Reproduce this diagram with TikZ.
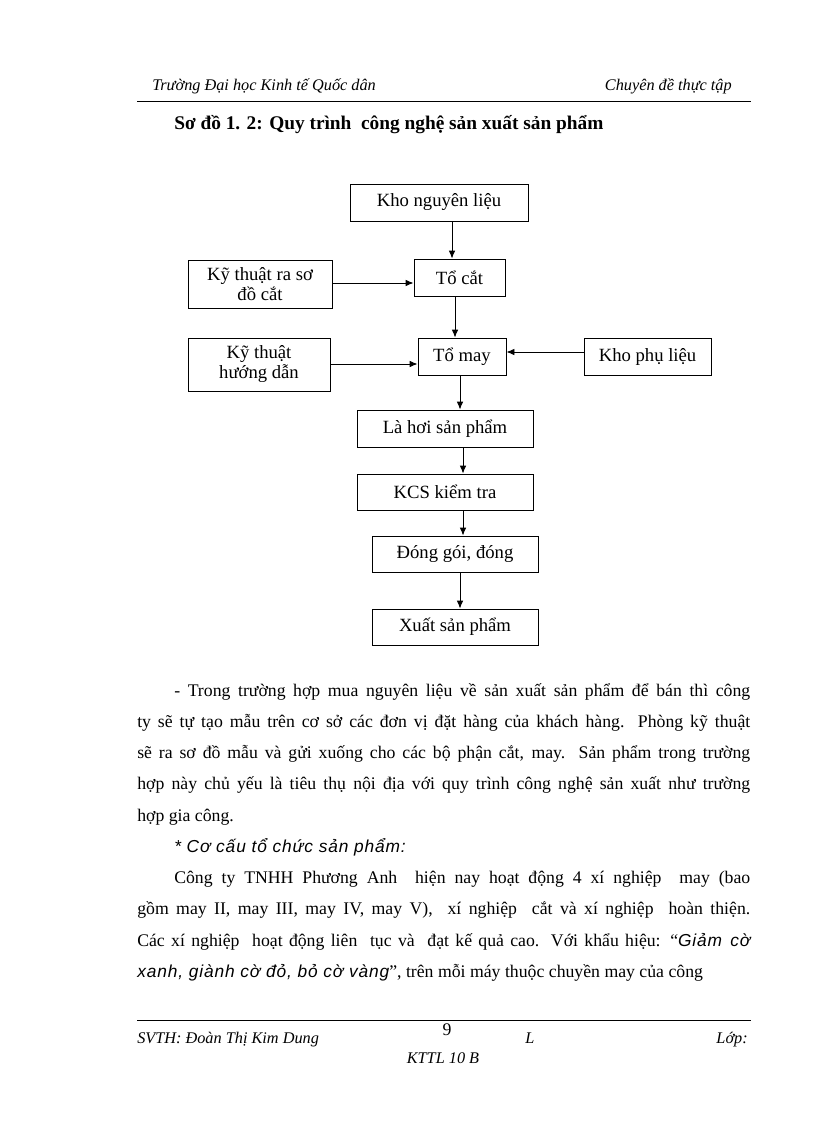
\documentclass[tikz,border=0pt]{standalone}
\usepackage{fontspec}
\setmainfont{Liberation Serif}
\newfontfamily\sitf{Liberation Sans}[LetterSpace=5]
\usetikzlibrary{arrows.meta}
\tikzset{
  box/.style={draw, line width=0.7pt, inner sep=1pt, align=center, font=\fontsize{14}{15}\selectfont},
  arr/.style={draw, line width=0.7pt, -{Latex[length=6pt,width=5pt]}},
  body/.style={anchor=base west, inner sep=0pt, font=\fontsize{13.3}{15}\selectfont},
  hdr/.style={inner sep=0pt, font=\fontsize{12.2}{14}\selectfont\itshape},
  rulel/.style={line width=0.75pt}
}
\newcommand{\sit}{\sitf\itshape\fontsize{13}{15}\selectfont}
\newcommand{\boxat}[6]{% name, x1,y1,x2,y2, text
  \node[box, minimum width={(#4-#2)*0.75pt}, minimum height={(#5-#3)*0.75pt}] (#1) at ({(#2+#4)/2},{(#3+#5)/2}) {#6};}
\begin{document}
\begin{tikzpicture}[x=0.75pt,y=-0.75pt]
\useasboundingbox[fill=white] (0,0) rectangle (816,1123);
% header
\node[hdr, anchor=base west] (hl) at (152,91) {Trường Đại học Kinh tế Quốc dân};
\node[hdr, anchor=base east] (hr) at (732,91) {Chuyên đề thực tập};
\coordinate (hr1) at (137,102);
\coordinate (hr2) at (751,102);
\draw[rulel] (hr1) -- (hr2);
\node[anchor=base west, inner sep=0pt, font=\fontsize{14.5}{16}\selectfont\bfseries] (title) at (174,130) {Sơ đồ 1. 2: Quy trình\ \ công nghệ sản xuất sản phẩm};
% boxes
\boxat{kho}{350}{184}{528}{221}{Kho nguyên liệu}
\boxat{tocat}{414}{259}{505}{296}{Tổ cắt}
\boxat{ktcat}{188}{260}{332}{308}{Kỹ thuật ra sơ\\đồ cắt}
\boxat{tomay}{418}{338}{506}{375}{Tổ may}
\boxat{kthd}{188}{338}{330}{391}{Kỹ thuật\\hướng dẫn}
\boxat{khopl}{584}{338}{711}{375}{Kho phụ liệu}
\boxat{lahoi}{357}{410}{533}{447}{Là hơi sản phẩm}
\boxat{kcs}{357}{474}{533}{510}{KCS kiểm tra}
\boxat{donggoi}{372}{536}{538}{572}{Đóng gói, đóng}
\boxat{xuat}{372}{609}{538}{645}{Xuất sản phẩm}
% connector guide coordinates
\coordinate (v1) at (452,0);
\coordinate (v2) at (455,0);
\coordinate (v3) at (460,0);
\coordinate (v4) at (463,0);
\coordinate (h1) at (0,283);
\coordinate (h2) at (0,364);
\coordinate (h3) at (0,352);
\draw[arr] (kho.south -| v1) -- (tocat.north -| v1);
\draw[arr] (ktcat.east |- h1) -- (tocat.west |- h1);
\draw[arr] (tocat.south -| v2) -- (tomay.north -| v2);
\draw[arr] (kthd.east |- h2) -- (tomay.west |- h2);
\draw[arr] (khopl.west |- h3) -- (tomay.east |- h3);
\draw[arr] (tomay.south -| v3) -- (lahoi.north -| v3);
\draw[arr] (lahoi.south -| v4) -- (kcs.north -| v4);
\draw[arr] (kcs.south -| v4) -- (donggoi.north -| v4);
\draw[arr] (donggoi.south -| v3) -- (xuat.north -| v3);
% body text
\node[body] (p1) at (174,696) {\makebox[432pt][s]{- Trong trường hợp mua nguyên liệu về sản xuất sản phẩm để bán thì công}};
\node[body] (p2) at (137,727) {\makebox[459.75pt][s]{ty sẽ tự tạo mẫu trên cơ sở các đơn vị đặt hàng của khách hàng. Phòng kỹ thuật}};
\node[body] (p3) at (137,758) {\makebox[459.75pt][s]{sẽ ra sơ đồ mẫu và gửi xuống cho các bộ phận cắt, may. Sản phẩm trong trường}};
\node[body] (p4) at (137,789) {\makebox[459.75pt][s]{hợp này chủ yếu là tiêu thụ nội địa với quy trình công nghệ sản xuất như trường}};
\node[body] (p5) at (137,821) {hợp gia công.};
\node[body, font=\sit] (p6) at (174,852) {* Cơ cấu tổ chức sản phẩm:};
\node[body] (p7) at (174,883) {\makebox[432pt][s]{Công ty TNHH Phương Anh\ \ hiện nay hoạt động 4 xí nghiệp\ \ may (bao}};
\node[body] (p8) at (137,914) {\makebox[459.75pt][s]{gồm may II, may III, may IV, may V),\ \ xí nghiệp\ \ cắt và xí nghiệp\ \ hoàn thiện.}};
\node[body] (p9) at (137,946) {\makebox[459.75pt][s]{Các xí nghiệp\ \ hoạt động liên\ \ tục và\ \ đạt kế quả cao. Với khẩu hiệu: “{\sit Giảm cờ}}};
\node[body] (p10) at (137,977) {{\sit xanh, giành cờ đỏ, bỏ cờ vàng}”, trên mỗi máy thuộc chuyền may của công};
% footer
\coordinate (fr1) at (137,1020);
\coordinate (fr2) at (751,1020);
\draw[rulel] (fr1) -- (fr2);
\node[hdr, anchor=base west] (f1) at (137,1043) {SVTH: Đoàn Thị Kim Dung};
\node[inner sep=0pt, anchor=base, font=\fontsize{13.3}{14}\selectfont] (f2) at (447,1035) {9};
\node[hdr, anchor=base] (f3) at (530,1043) {L};
\node[hdr, anchor=base east] (f4) at (748,1043) {Lớp:};
\node[hdr, anchor=base] (f5) at (443,1063) {KTTL 10 B};
\end{tikzpicture}
\end{document}
